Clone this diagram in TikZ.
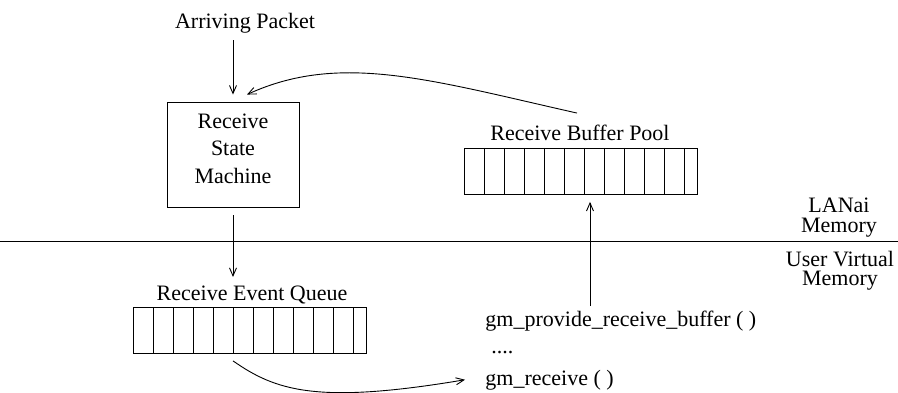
\documentclass[tikz,border=0pt]{standalone}
\usepackage{fontspec}
\setmainfont{Liberation Serif}
\usetikzlibrary{arrows.meta,calc}
\begin{document}
\begin{tikzpicture}[x=1pt,y=-1pt,line width=0.9pt,
  font=\fontsize{22}{27.5}\selectfont,
  arr/.style={-{Straight Barb[length=8pt,width=7pt]}},
  queue/.style={draw,minimum width=233pt,minimum height=46pt,inner sep=0pt,anchor=north west},
  lbl/.style={inner sep=0pt},
  memlbl/.style={inner sep=0pt,anchor=base,align=center,font=\fontsize{22}{20}\selectfont}]
\useasboundingbox (0,0) rectangle (898,393);
% nodes
\node[lbl,anchor=base] (ap) at (245,29) {Arriving Packet};
\node[draw,minimum width=132pt,minimum height=105pt,align=center,inner sep=0pt,text depth=12pt] (rsm) at (233,154.5) {Receive\\State\\Machine};
\node[lbl,anchor=base] (rbpl) at (580,141) {Receive Buffer Pool};
\node[queue] (rbp) at (464,148) {};
\foreach \i in {1,...,11} \draw ($(rbp.north west)+(20*\i,0)$) -- ($(rbp.south west)+(20*\i,0)$);
\node[lbl,anchor=base] (reql) at (252,301) {Receive Event Queue};
\node[queue] (req) at (133,307) {};
\foreach \i in {1,...,11} \draw ($(req.north west)+(20*\i,0)$) -- ($(req.south west)+(20*\i,0)$);
\node[memlbl] (lanai) at (839,233) {LANai\\Memory};
\node[memlbl] (uvm) at (840,286) {User Virtual\\Memory};
\node[lbl,anchor=base west] (gpl) at (485,326) {gm\_provide\_receive\_buffer ( )};
\node[lbl,anchor=base west] (dots) at (491,353) {....};
\node[lbl,anchor=base west] (gr) at (485,385) {gm\_receive ( )};
\coordinate (sepL) at (0,241);
\coordinate (sepR) at (898,241);
% connectors
\draw (sepL) -- (sepR);
\draw[arr,shorten <=6pt,shorten >=7pt] (ap.south -| rsm.north) -- (rsm.north);
\draw[arr,shorten <=8pt,shorten >=9pt] (rsm.south) -- (rsm.south |- reql.north);
\draw[arr] ([xshift=-3pt,yshift=12pt]rbpl.north) .. controls (430,80) and (340,52) .. ([xshift=14pt,yshift=7pt]rsm.north);
\draw[arr,shorten <=4pt,shorten >=7pt] ([xshift=105pt]gpl.north west) -- ([xshift=105pt]gpl.north west |- rbp.south);
\draw[arr] ([yshift=-7pt]req.south -| rsm.south) .. controls (275,390) and (315,405) .. ([xshift=-20pt]gr.west);
\end{tikzpicture}
\end{document}
